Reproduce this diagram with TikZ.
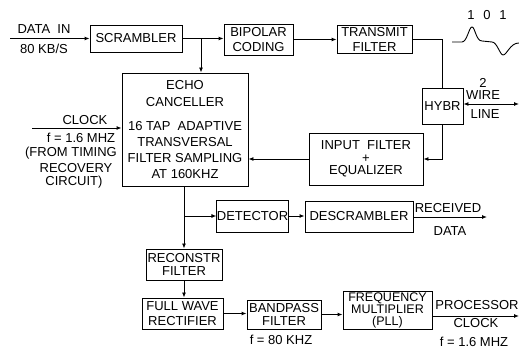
\documentclass[tikz,border=0pt]{standalone}
\usepackage{fontspec}
\setmainfont{Liberation Sans}
\usetikzlibrary{arrows.meta}
\begin{document}
\begin{tikzpicture}[x=1pt,y=-1pt,
  every node/.style={font=\fontsize{13}{15}\selectfont, inner sep=0pt},
  blk/.style={draw, line width=0.9pt, align=center},
  lbl/.style={align=center},
  ln/.style={line width=0.9pt},
  arr/.style={ln, -{Latex[length=5pt,width=4pt]}},
  dblarr/.style={ln, {Latex[length=5pt,width=4pt]}-{Latex[length=5pt,width=4pt]}},
]
\useasboundingbox (0,0) rectangle (519,352);

% boxes
\node[blk, minimum width=92pt, minimum height=27pt] (scr) at (136,38.5) {SCRAMBLER};
\node[blk, minimum width=69pt, minimum height=31pt] (bip) at (258.5,39.5) {BIPOLAR\\CODING};
\node[blk, minimum width=75pt, minimum height=28pt] (tx) at (374.5,39) {TRANSMIT\\FILTER};
\node[blk, minimum width=41pt, minimum height=36pt] (hyb) at (442.5,106) {HYBR};
\node[blk, minimum width=126pt, minimum height=113pt, font=\fontsize{13}{16}\selectfont] (echo) at (185,129.5)
  {ECHO\\[1pt]CANCELLER\\[8pt]16 TAP\ \ ADAPTIVE\\TRANSVERSAL\\FILTER SAMPLING\\AT 160KHZ};
\node[blk, minimum width=114pt, minimum height=52pt, font=\fontsize{13}{12.5}\selectfont] (inp) at (366,159)
  {INPUT\ \ FILTER\\+\\EQUALIZER};
\node[blk, minimum width=71pt, minimum height=32pt] (det) at (252.5,216) {DETECTOR};
\node[blk, minimum width=108pt, minimum height=31pt] (desc) at (359,216.5) {DESCRAMBLER};
\node[blk, minimum width=76pt, minimum height=31pt, font=\fontsize{13}{13}\selectfont] (rec) at (184,264.5) {RECONSTR\\FILTER};
\node[blk, minimum width=81pt, minimum height=31pt] (fwr) at (182.5,313.5) {FULL WAVE\\RECTIFIER};
\node[blk, minimum width=74pt, minimum height=29pt, font=\fontsize{13}{13}\selectfont] (bpf) at (284,314.5) {BANDPASS\\FILTER};
\node[blk, minimum width=89pt, minimum height=38pt, font=\fontsize{12.5}{12}\selectfont] (fm) at (387.5,310) {FREQUENCY\\MULTIPLIER\\(PLL)};

% input data
\coordinate (din) at (10,38.5);
\draw[arr] (din) -- (scr.west);
\node[lbl] (dinT) at (44,29) {DATA\ \ IN};
\node[lbl] (dinB) at (44,49) {80 KB/S};

% scrambler to bipolar and echo
\coordinate (br1) at (201,38.5);
\draw[arr] (scr.east) -- (scr.east -| bip.west);
\draw[arr] (br1) -- (br1 |- echo.north);
\draw[arr] (bip.east) -- (bip.east -| tx.west);

% transmit filter to hybrid
\draw[ln] (tx.east) -- (tx.east -| hyb.north) -- (hyb.north);

% two wire line
\coordinate (wire) at (519,104);
\draw[dblarr] (hyb.east |- wire) -- (wire);
\node[lbl] (w2) at (483,83) {2};
\node[lbl] (wW) at (483,95) {WIRE};
\node[lbl] (wL) at (485,114) {LINE};

% waveform
\draw[ln] (452,42) -- (462,42) .. controls (467,42) and (469,27) .. (472,27)
  .. controls (475,27) and (476,41) .. (482,41) -- (492,42)
  .. controls (497,42) and (500,55) .. (503,55)
  .. controls (507,55) and (510,43) .. (519,43);
\node[lbl] (b1) at (471,15) {1};
\node[lbl] (b2) at (487,15) {0};
\node[lbl] (b3) at (503,15) {1};

% hybrid to input filter to echo
\draw[arr] (hyb.south) -- (hyb.south |- inp.east) -- (inp.east);
\draw[arr] (inp.west) -- (inp.west -| echo.east);

% clock
\coordinate (clk) at (32,128);
\draw[arr] (clk) -- (clk -| echo.west);
\node[lbl] (cl1) at (85,120) {CLOCK};
\node[lbl] (cl2) at (81,138) {f = 1.6 MHZ};
\node[lbl] (cl3) at (71,153) {(FROM TIMING};
\node[lbl] (cl4) at (76,168) {RECOVERY};
\node[lbl] (cl5) at (74,182) {CIRCUIT)};

% echo down
\draw[arr] (rec.north |- echo.south) -- (rec.north);
\draw[arr] (rec.north |- det.west) -- (det.west);
\draw[arr] (det.east) -- (det.east -| desc.west);
\coordinate (rd) at (487,217);
\draw[arr] (desc.east |- rd) -- (rd);
\node[lbl] (rd1) at (448,208) {RECEIVED};
\node[lbl] (rd2) at (450,231) {DATA};

% bottom chain
\draw[arr] (rec.south) -- (rec.south |- fwr.north);
\draw[arr] (fwr.east) -- (fwr.east -| bpf.west);
\draw[arr] (bpf.east) -- (bpf.east -| fm.west);
\node[lbl] (f80) at (281,340) {f = 80 KHZ};
\coordinate (pc) at (519,316);
\draw[arr] (fm.east |- pc) -- (pc);
\node[lbl] (pc1) at (477,305) {PROCESSOR};
\node[lbl] (pc2) at (476,323) {CLOCK};
\node[lbl] (pc3) at (474,342) {f = 1.6 MHZ};
\end{tikzpicture}
\end{document}
